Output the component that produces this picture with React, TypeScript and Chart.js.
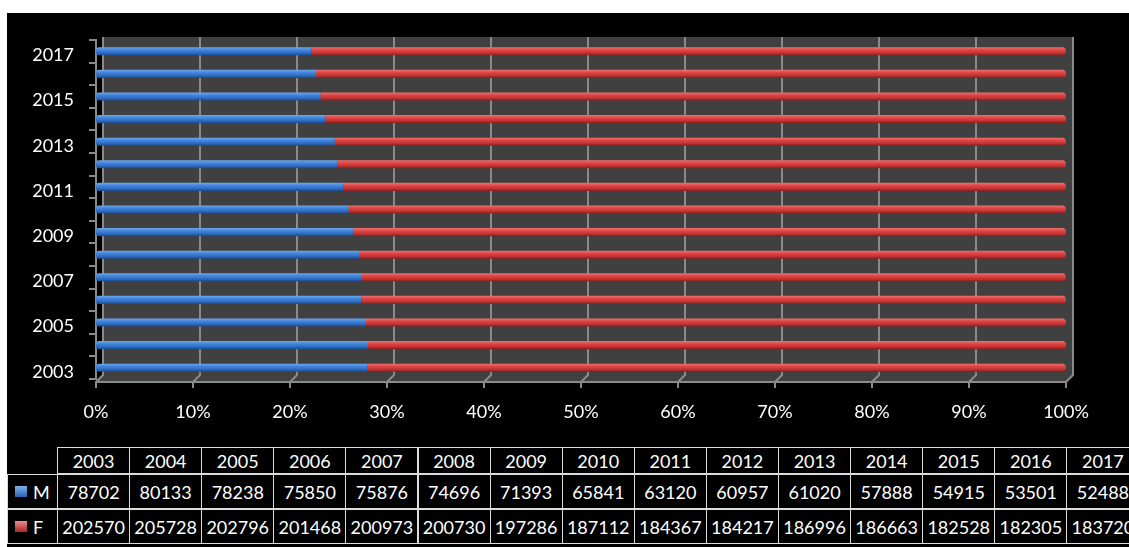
import React, { useEffect, useRef } from "react";
import { Chart, registerables } from "chart.js";

Chart.register(...registerables);

const years = ["2003", "2004", "2005", "2006", "2007", "2008", "2009", "2010", "2011", "2012", "2013", "2014", "2015", "2016", "2017"];
const maleValues = [78702, 80133, 78238, 75850, 75876, 74696, 71393, 65841, 63120, 60957, 61020, 57888, 54915, 53501, 52488];
const femaleValues = [202570, 205728, 202796, 201468, 200973, 200730, 197286, 187112, 184367, 184217, 186996, 186663, 182528, 182305, 183720];
const seriesNames = ["M", "F"];

const FONT = "Lato, 'Open Sans', sans-serif";
const GRID = "#8a8a8a";

const malePct = maleValues.map((m, i) => (m / (m + femaleValues[i])) * 100);
const femalePct = femaleValues.map((f, i) => (f / (maleValues[i] + f)) * 100);

function barGradient(ctx: any, stops: string[]) {
  const chart = ctx.chart;
  if (!chart.chartArea || ctx.dataIndex === undefined) return stops[1];
  const yScale = chart.scales.y;
  const y = yScale.getPixelForValue(ctx.dataIndex);
  const g = chart.ctx.createLinearGradient(0, y - 4, 0, y + 4);
  g.addColorStop(0, stops[0]);
  g.addColorStop(0.35, stops[1]);
  g.addColorStop(0.7, stops[2]);
  g.addColorStop(1, stops[3]);
  return g;
}

const wallPlugin = {
  id: "wall3d",
  beforeDraw(chart: any) {
    const { ctx, chartArea: a, scales } = chart;
    const d = 7;
    const top = a.top - 3;
    const wallBottom = a.bottom - 4;
    const floor = a.bottom + 3;
    ctx.save();
    ctx.fillStyle = "#404040";
    ctx.fillRect(a.left + d, top, a.right - a.left, wallBottom - top);
    ctx.beginPath();
    ctx.moveTo(a.left + d, wallBottom);
    ctx.lineTo(a.right + d, wallBottom);
    ctx.lineTo(a.right, floor);
    ctx.lineTo(a.left, floor);
    ctx.closePath();
    ctx.fill();
    ctx.strokeStyle = GRID;
    ctx.lineWidth = 2;
    scales.x.ticks.forEach((t: any) => {
      const px = scales.x.getPixelForValue(t.value);
      ctx.beginPath();
      ctx.moveTo(px + d, top);
      ctx.lineTo(px + d, wallBottom);
      ctx.lineTo(px, floor);
      ctx.lineTo(px, floor + 6);
      ctx.stroke();
    });
    ctx.beginPath();
    ctx.moveTo(a.left, floor);
    ctx.lineTo(a.right, floor);
    ctx.stroke();
    ctx.restore();
  },
};

const COLS_LEFT = 50;
const LABEL_W = 50;
const COL_W = 72.1;
const ROW_TOPS = [434, 461, 496];
const ROW_HS = [27, 35, 35];

function Cell(props: { left: number; top: number; width: number; height: number; border?: boolean; children?: any; justify?: string }) {
  return (
    <div
      style={{
        position: "absolute",
        left: props.left,
        top: props.top,
        width: props.width,
        height: props.height,
        boxSizing: "border-box",
        border: props.border === false ? "none" : "1px solid #dcdcdc",
        display: "flex",
        alignItems: "center",
        justifyContent: props.justify || "center",
        color: "#ffffff",
        fontFamily: FONT,
        fontSize: 18,
        whiteSpace: "nowrap",
        overflow: "hidden",
      }}
    >
      {props.children}
    </div>
  );
}

export default function App() {
  const canvasRef = useRef<HTMLCanvasElement | null>(null);

  useEffect(() => {
    if (!canvasRef.current) return;
    const chart = new Chart(canvasRef.current, {
      type: "bar",
      data: {
        labels: years,
        datasets: [
          {
            label: seriesNames[0],
            data: malePct,
            backgroundColor: (ctx: any) => barGradient(ctx, ["#6fa6ea", "#4086dc", "#2f6cc0", "#1c4a8e"]),
            borderWidth: 0,
            borderSkipped: false,
            borderRadius: { topLeft: 3, bottomLeft: 3, topRight: 0, bottomRight: 0 },
            barPercentage: 0.36,
            categoryPercentage: 1,
          },
          {
            label: seriesNames[1],
            data: femalePct,
            backgroundColor: (ctx: any) => barGradient(ctx, ["#ee7070", "#df4545", "#c43333", "#842020"]),
            borderWidth: 0,
            borderRadius: { topLeft: 0, bottomLeft: 0, topRight: 4, bottomRight: 4 },
            barPercentage: 0.36,
            categoryPercentage: 1,
          },
        ],
      },
      options: {
        indexAxis: "y",
        responsive: false,
        animation: false,
        devicePixelRatio: 1,
        layout: { padding: { top: 27, right: 63, left: 0, bottom: 0 } },
        plugins: { legend: { display: false }, tooltip: { enabled: false } },
        scales: {
          x: {
            stacked: true,
            min: 0,
            max: 100,
            grid: { display: false, drawTicks: false },
            border: { display: false },
            ticks: {
              stepSize: 10,
              padding: 22,
              color: "#ffffff",
              font: { family: FONT, size: 18 },
              callback: (v: any) => v + "%",
            },
            afterFit: (s: any) => {
              s.height = 64;
            },
          },
          y: {
            stacked: true,
            reverse: true,
            grid: {
              display: true,
              drawOnChartArea: false,
              drawTicks: true,
              tickLength: 7,
              offset: true,
              color: GRID,
              lineWidth: 2,
            },
            border: { display: true, color: GRID, width: 2 },
            ticks: {
              autoSkip: false,
              padding: 15,
              labelOffset: 4,
              color: "#ffffff",
              font: { family: FONT, size: 18 },
              callback: (_v: any, i: number) => (i % 2 === 0 ? years[i] : ""),
            },
            afterFit: (s: any) => {
              s.width = 89;
            },
          },
        },
      },
      plugins: [wallPlugin],
    } as any);
    return () => chart.destroy();
  }, []);

  const keyStyle = (c1: string, c2: string) => ({
    width: 12,
    height: 11,
    background: `linear-gradient(to bottom, ${c1}, ${c2})`,
    marginLeft: 7,
    marginRight: 6,
  });

  return (
    <div
      style={{
        position: "absolute",
        left: 7,
        top: 13,
        width: 1122,
        height: 534,
        background: "#000000",
        overflow: "hidden",
      }}
    >
      <canvas ref={canvasRef} width={1122} height={430} style={{ position: "absolute", left: 0, top: 0, width: 1122, height: 430 }} />
      {years.map((y, i) => (
        <Cell key={"h" + y} left={COLS_LEFT + i * COL_W} top={ROW_TOPS[0]} width={COL_W + 1} height={ROW_HS[0]}>
          {y}
        </Cell>
      ))}
      <Cell left={0} top={ROW_TOPS[1]} width={LABEL_W + 1} height={ROW_HS[1]} justify="flex-start">
        <div style={keyStyle("#7fb0ee", "#2a62b2")} />
        {seriesNames[0]}
      </Cell>
      <Cell left={0} top={ROW_TOPS[2]} width={LABEL_W + 1} height={ROW_HS[2]} justify="flex-start">
        <div style={keyStyle("#f08a8a", "#a82828")} />
        {seriesNames[1]}
      </Cell>
      {maleValues.map((v, i) => (
        <Cell key={"m" + i} left={COLS_LEFT + i * COL_W} top={ROW_TOPS[1]} width={COL_W + 1} height={ROW_HS[1]}>
          {v}
        </Cell>
      ))}
      {femaleValues.map((v, i) => (
        <Cell key={"f" + i} left={COLS_LEFT + i * COL_W} top={ROW_TOPS[2]} width={COL_W + 1} height={ROW_HS[2]}>
          {v}
        </Cell>
      ))}
    </div>
  );
}
